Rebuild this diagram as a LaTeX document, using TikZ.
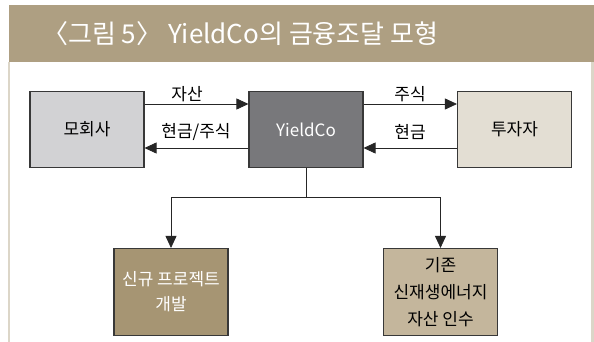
\documentclass[tikz,border=0pt]{standalone}
\usepackage{fontspec}
\setmainfont{Noto Sans CJK KR}
\usetikzlibrary{arrows.meta}
\definecolor{band}{HTML}{AE9F82}
\definecolor{frameln}{HTML}{DCD6C8}
\definecolor{mofill}{HTML}{D2D2D4}
\definecolor{ycfill}{HTML}{78787B}
\definecolor{tjfill}{HTML}{E3DED3}
\definecolor{snfill}{HTML}{A69573}
\definecolor{gzfill}{HTML}{C4B69C}
\definecolor{bord}{HTML}{383838}
\tikzset{
  box/.style={draw=bord, line width=1.1pt, minimum width=114pt, minimum height=76pt, inner sep=1pt, align=center, font=\fontsize{17}{25}\selectfont},
  arr/.style={draw=black!85, line width=0.8pt, -{Triangle[length=12pt,width=11pt]}},
  ln/.style={draw=black!85, line width=0.8pt},
  lbl/.style={font=\fontsize{17}{20}\selectfont, inner sep=0pt}
}
\begin{document}
\begin{tikzpicture}[x=1pt,y=-1pt]
\useasboundingbox (0,0) rectangle (594,342);
\fill[white] (0,0) rectangle (594,342);
% header band
\fill[band] (8.5,5) rectangle (594,62);
\node[anchor=west, text=white, font=\fontsize{26}{30}\selectfont, inner sep=0pt] (title) at (42,34) {〈그림 5〉 YieldCo의 금융조달 모형};
% frame
\draw[frameln, line width=1.2pt] (9,62) -- (9,342);
\draw[frameln, line width=3pt] (592.5,62) -- (592.5,342);
% boxes
\node[box, fill=mofill] (mo) at (87,129.5) {모회사};
\node[box, fill=ycfill, text=white] (yc) at (306,129.5) {YieldCo};
\node[box, fill=tjfill] (tj) at (514.5,129.5) {투자자};
\node[box, fill=snfill, text=white, minimum height=87pt] (sn) at (171,292) {신규 프로젝트\\개발};
\node[box, fill=gzfill, minimum height=87pt, font=\fontsize{17}{27}\selectfont] (gz) at (440.5,292) {기존\\신재생에너지\\자산 인수};
% horizontal arrows
\draw[arr] ([yshift=25.5pt]mo.east) -- ([yshift=25.5pt]yc.west);
\draw[arr] ([yshift=-18.5pt]yc.west) -- ([yshift=-18.5pt]mo.east);
\draw[arr] ([yshift=25.5pt]yc.east) -- ([yshift=25.5pt]tj.west);
\draw[arr] ([yshift=-18.5pt]tj.west) -- ([yshift=-18.5pt]yc.east);
\node[lbl] (l1) at (187,94) {자산};
\node[lbl] (l2) at (196,132) {현금/주식};
\node[lbl] (l3) at (410,94) {주식};
\node[lbl] (l4) at (410,132) {현금};
% tree
\coordinate (j) at (306,197);
\draw[ln] (yc.south) -- (j);
\draw[ln] (sn.north |- j) -- (gz.north |- j);
\draw[arr] (sn.north |- j) -- (sn.north);
\draw[arr] (gz.north |- j) -- (gz.north);
\end{tikzpicture}
\end{document}
